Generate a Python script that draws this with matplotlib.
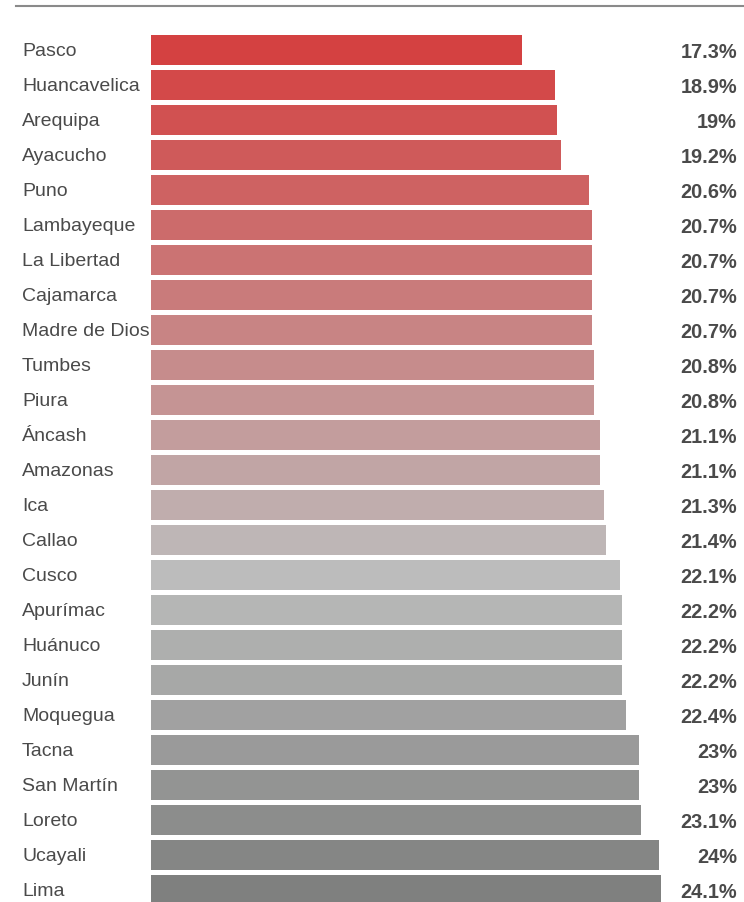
import matplotlib
matplotlib.use("Agg")
import matplotlib.pyplot as plt
import matplotlib.transforms as mtransforms
from matplotlib.colors import LinearSegmentedColormap
from matplotlib.lines import Line2D

# Datos
regiones = ["Pasco", "Huancavelica", "Arequipa", "Ayacucho", "Puno", "Lambayeque",
            "La Libertad", "Cajamarca", "Madre de Dios", "Tumbes", "Piura", "Áncash",
            "Amazonas", "Ica", "Callao", "Cusco", "Apurímac", "Huánuco", "Junín",
            "Moquegua", "Tacna", "San Martín", "Loreto", "Ucayali", "Lima"]
valores = [17.3, 18.9, 19.0, 19.2, 20.6, 20.7, 20.7, 20.7, 20.7, 20.8, 20.8, 21.1,
           21.1, 21.3, 21.4, 22.1, 22.2, 22.2, 22.2, 22.4, 23.0, 23.0, 23.1, 24.0, 24.1]
etiquetas = ["17.3%", "18.9%", "19%", "19.2%", "20.6%", "20.7%", "20.7%", "20.7%",
             "20.7%", "20.8%", "20.8%", "21.1%", "21.1%", "21.3%", "21.4%", "22.1%",
             "22.2%", "22.2%", "22.2%", "22.4%", "23%", "23%", "23.1%", "24%", "24.1%"]

plt.rcParams['font.family'] = ['Liberation Sans', 'DejaVu Sans']

W, H = 744, 902
fig = plt.figure(figsize=(W / 100, H / 100), dpi=100)

# Eje: barras empiezan en x=151 px, el paso vertical es 35 px
base = -0.85
y_top = 32.5
y_bot = y_top + 35 * len(regiones)
ax = fig.add_axes([151 / W, (H - y_bot) / H, 510 / W, (y_bot - y_top) / H])

cmap = LinearSegmentedColormap.from_list("rojo_gris", [(0, "#d44141"), (0.62, "#bdbdbd"), (1, "#7f807f")])
n = len(regiones)
colores = [cmap(i / (n - 1)) for i in range(n)]

pos = list(range(n))
ax.barh(pos, [v - base for v in valores], left=base, height=0.83, color=colores)
ax.set_xlim(base, 24.1)
ax.set_ylim(n - 0.5, -0.5)
ax.axis("off")

trans = mtransforms.blended_transform_factory(fig.transFigure, ax.transData)
for i, (r, e) in enumerate(zip(regiones, etiquetas)):
    ax.text(22 / W, i + 0.04, r, transform=trans, ha="left", va="center",
            fontsize=14, color="#4a4a4a")
    ax.text(737 / W, i + 0.06, e, transform=trans, ha="right", va="center",
            fontsize=14.4, fontweight="bold", color="#4a4a4a")

# Línea superior
fig.add_artist(Line2D([16 / W, 1], [1 - 6 / H, 1 - 6 / H], transform=fig.transFigure,
                      color="#8a8a8a", lw=1.5))

fig.savefig("out.png", dpi=100)
